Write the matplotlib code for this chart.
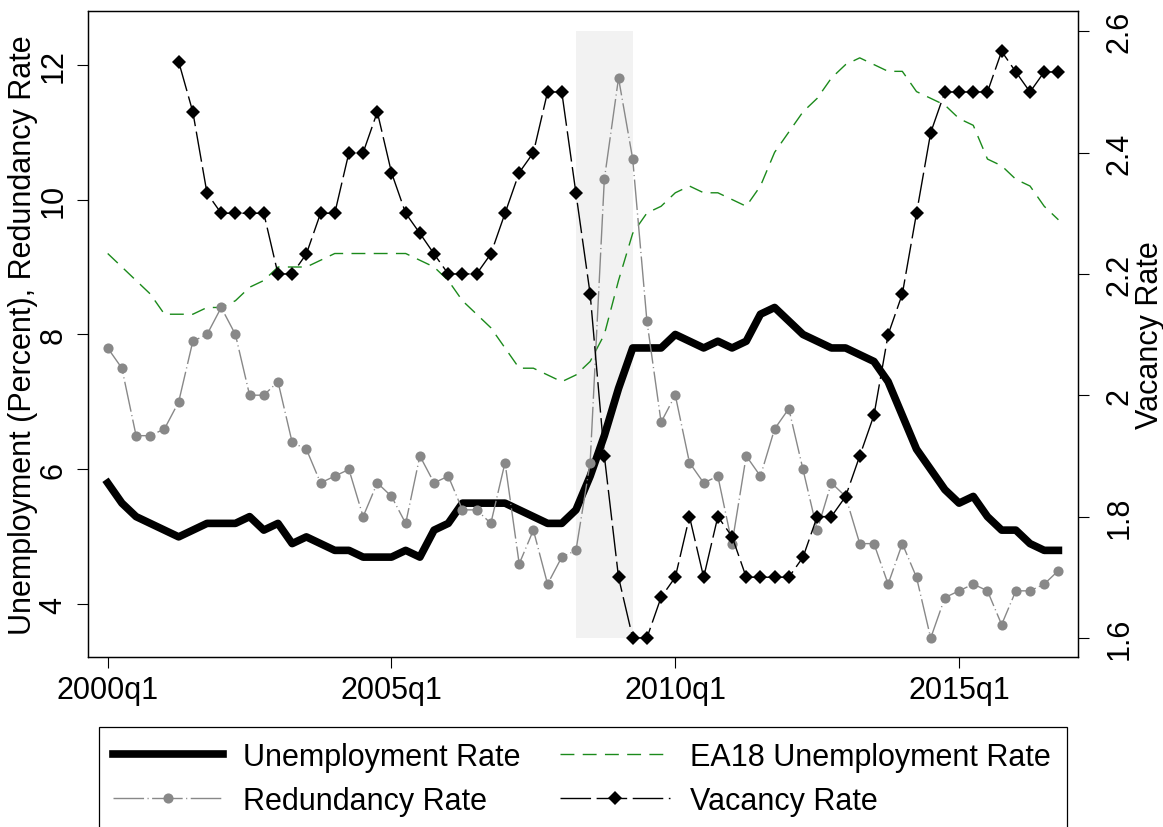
import numpy as np
import matplotlib
matplotlib.use("Agg")
import matplotlib.pyplot as plt
from matplotlib.patches import Rectangle

plt.rcParams['font.family'] = ['Liberation Sans', 'DejaVu Sans']

# quarterly data, 2000q1 .. 2016q4
quarters = [f"{y}q{q}" for y in range(2000, 2017) for q in range(1, 5)]

unemployment = [5.8, 5.5, 5.3, 5.2, 5.1, 5.0, 5.1, 5.2, 5.2, 5.2,
                5.3, 5.1, 5.2, 4.9, 5.0, 4.9, 4.8, 4.8, 4.7, 4.7,
                4.7, 4.8, 4.7, 5.1, 5.2, 5.5, 5.5, 5.5, 5.5, 5.4,
                5.3, 5.2, 5.2, 5.4, 5.9, 6.5, 7.2, 7.8, 7.8, 7.8,
                8.0, 7.9, 7.8, 7.9, 7.8, 7.9, 8.3, 8.4, 8.2, 8.0,
                7.9, 7.8, 7.8, 7.7, 7.6, 7.3, 6.8, 6.3, 6.0, 5.7,
                5.5, 5.6, 5.3, 5.1, 5.1, 4.9, 4.8, 4.8]

ea18_unemployment = [9.2, 9.0, 8.8, 8.6, 8.3, 8.3, 8.3, 8.4, 8.4, 8.5,
                     8.7, 8.8, 9.0, 9.0, 9.0, 9.1, 9.2, 9.2, 9.2, 9.2,
                     9.2, 9.2, 9.1, 9.0, 8.8, 8.5, 8.3, 8.1, 7.8, 7.5,
                     7.5, 7.4, 7.3, 7.4, 7.6, 8.0, 8.8, 9.5, 9.8, 9.9,
                     10.1, 10.2, 10.1, 10.1, 10.0, 9.9, 10.2, 10.7, 11.0, 11.3,
                     11.5, 11.8, 12.0, 12.1, 12.0, 11.9, 11.9, 11.6, 11.5, 11.4,
                     11.2, 11.1, 10.6, 10.5, 10.3, 10.2, 9.9, 9.7]

redundancy = [7.8, 7.5, 6.5, 6.5, 6.6, 7.0, 7.9, 8.0, 8.4, 8.0,
              7.1, 7.1, 7.3, 6.4, 6.3, 5.8, 5.9, 6.0, 5.3, 5.8,
              5.6, 5.2, 6.2, 5.8, 5.9, 5.4, 5.4, 5.2, 6.1, 4.6,
              5.1, 4.3, 4.7, 4.8, 6.1, 10.3, 11.8, 10.6, 8.2, 6.7,
              7.1, 6.1, 5.8, 5.9, 4.9, 6.2, 5.9, 6.6, 6.9, 6.0,
              5.1, 5.8, 5.6, 4.9, 4.9, 4.3, 4.9, 4.4, 3.5, 4.1,
              4.2, 4.3, 4.2, 3.7, 4.2, 4.2, 4.3, 4.5]

# vacancy series starts in 2001q2
vacancy_start = "2001q2"
vacancy = [2.55, 2.467, 2.333, 2.30, 2.30, 2.30, 2.30, 2.20, 2.20, 2.233,
           2.30, 2.30, 2.40, 2.40, 2.467, 2.367, 2.30, 2.267, 2.233, 2.20,
           2.20, 2.20, 2.233, 2.30, 2.367, 2.40, 2.50, 2.50, 2.333, 2.167,
           1.90, 1.70, 1.60, 1.60, 1.667, 1.70, 1.80, 1.70, 1.80, 1.767,
           1.70, 1.70, 1.70, 1.70, 1.733, 1.80, 1.80, 1.833, 1.90, 1.967,
           2.10, 2.167, 2.30, 2.433, 2.50, 2.50, 2.50, 2.50, 2.567, 2.533,
           2.50, 2.533, 2.533]

recession = ("2008q2", "2009q2")
x_ticklabels = ["2000q1", "2005q1", "2010q1", "2015q1"]
left_ticks = [4, 6, 8, 10, 12]
right_ticks = [1.6, 1.8, 2.0, 2.2, 2.4, 2.6]
right_ticklabels = ["1.6", "1.8", "2", "2.2", "2.4", "2.6"]

x = np.arange(len(quarters))
xv = x[quarters.index(vacancy_start):]

W, H = 1163, 828
fig = plt.figure(figsize=(W / 100, H / 100), dpi=100)
ax1 = fig.add_axes([87.7 / W, 1 - 658.3 / H, 990 / W, 646 / H])
ax2 = ax1.twinx()

FS = 22
GREEN = '#1b8a1b'
GRAY = '#888888'

# recession band, spans the vacancy axis range, drawn behind the left-axis lines
x0, x1 = quarters.index(recession[0]), quarters.index(recession[1])
ax1.add_patch(Rectangle((x0, right_ticks[0]), x1 - x0, right_ticks[-1] - right_ticks[0],
                        transform=ax2.transData, facecolor='#f2f2f2', edgecolor='none', zorder=0))

l_un, = ax1.plot(x, unemployment, color='black', lw=5.5, solid_joinstyle='round',
                 label='Unemployment Rate', zorder=2)
l_ea, = ax1.plot(x, ea18_unemployment, color=GREEN, lw=1.0, dashes=(10, 6),
                 label='EA18 Unemployment Rate', zorder=3)
l_rd, = ax1.plot(x, redundancy, color=GRAY, lw=1.0, dashes=(22, 2.5, 0.8, 2.5),
                 marker='o', ms=7.3, mfc=GRAY, mec=GRAY, mew=0,
                 label='Redundancy Rate', zorder=4)
l_vc, = ax2.plot(xv, vacancy, color='black', lw=1.0, dashes=(22, 4),
                 marker='D', ms=7.5, mfc='black', mec='black', mew=0,
                 label='Vacancy Rate', zorder=3)

ax1.set_xlim(-1.41, 68.36)
ax1.set_ylim(3.215, 12.79)
ax2.set_ylim(1.568, 2.633)

ax1.set_xticks([quarters.index(q) for q in x_ticklabels])
ax1.set_xticklabels(x_ticklabels, fontsize=FS)
ax1.set_yticks(left_ticks)
ax1.set_yticklabels([str(t) for t in left_ticks], fontsize=FS, rotation=90, va='center')
ax2.set_yticks(right_ticks)
ax2.set_yticklabels(right_ticklabels, fontsize=FS, rotation=90, va='center')

for ax in (ax1, ax2):
    ax.tick_params(direction='out', length=8, width=0.8, color='black')
    for s in ax.spines.values():
        s.set_linewidth(0.9)
ax1.tick_params(axis='x', pad=5)
ax1.tick_params(axis='y', pad=6)
ax2.tick_params(axis='y', pad=11.5)

ax1.set_ylabel('Unemployment (Percent), Redundancy Rate', fontsize=FS)
ax1.yaxis.set_label_coords(-0.050, 0.5)
ax2.set_ylabel('Vacancy Rate', fontsize=FS)
ax2.yaxis.set_label_coords(1.058, 0.5)

# legend frame runs off the bottom of the image
fig.patches.append(Rectangle((99 / W, -0.01), (1066.7 - 99) / W, 0.01 + 1 - 728.3 / H,
                             transform=fig.transFigure, facecolor='white',
                             edgecolor='black', lw=0.9))
fig.legend(handles=[l_un, l_rd, l_ea, l_vc], ncol=2, frameon=False, fontsize=FS,
           loc='upper left', bbox_to_anchor=(112.7 / W, 1 - 743 / H),
           borderpad=0, borderaxespad=0, handlelength=3.6, handletextpad=0.65,
           columnspacing=1.3, labelspacing=0.46)

fig.savefig('out.png', dpi=100)
